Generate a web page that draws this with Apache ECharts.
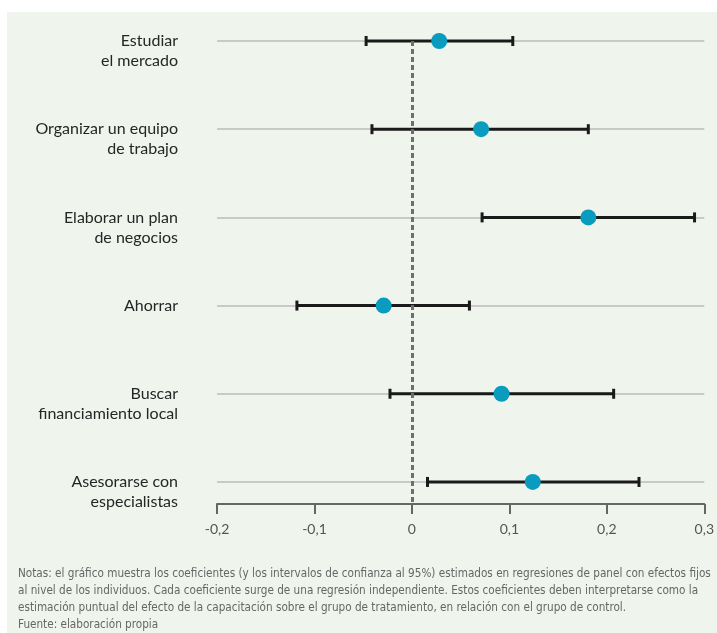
<!DOCTYPE html>
<html><head><meta charset="utf-8">
<script src="https://cdn.jsdelivr.net/npm/echarts@6/dist/echarts.min.js"></script>
<style>html,body{margin:0;padding:0;background:#fff;}#c{width:717px;height:633px;}</style>
</head><body><div id="c"></div>
<script>
const categories = [
  ['Estudiar', 'el mercado'],
  ['Organizar un equipo', 'de trabajo'],
  ['Elaborar un plan', 'de negocios'],
  ['Ahorrar'],
  ['Buscar', 'financiamiento local'],
  ['Asesorarse con', 'especialistas']
];
const coef  = [0.028, 0.071, 0.181, -0.029, 0.092, 0.124];
const lower = [-0.047, -0.041, 0.072, -0.118, -0.0225, 0.016];
const upper = [0.1035, 0.181, 0.290, 0.059, 0.207, 0.233];
const xTicks = [-0.2, -0.1, 0, 0.1, 0.2, 0.3];
const notes = [
  'Notas: el gráfico muestra los coeficientes (y los intervalos de confianza al 95%) estimados en regresiones de panel con efectos fijos',
  'al nivel de los individuos. Cada coeficiente surge de una regresión independiente. Estos coeficientes deben interpretarse como la',
  'estimación puntual del efecto de la capacitación sobre el grupo de tratamiento, en relación con el grupo de control.',
  'Fuente: elaboración propia'
];

const chart = echarts.init(document.getElementById('c'));
const ciData = categories.map((c, i) => [lower[i], upper[i], i]);
const ptData = categories.map((c, i) => [coef[i], i]);

chart.setOption({
  backgroundColor: 'transparent',
  animation: false,
  graphic: [
    { type: 'rect', z: -100, shape: { x: 7, y: 12, width: 710, height: 621 }, style: { fill: '#eff4ec' } },
    { type: 'text', left: 18, top: 565, z: 10, style: {
        text: notes.join('\n'), fill: '#666', lineHeight: 17,
        font: '11.65px "Liberation Sans Narrow", "DejaVu Sans Condensed", sans-serif' } }
  ],
  grid: { left: 217, right: 12, top: 41, bottom: 129 },
  xAxis: {
    type: 'value', min: xTicks[0], max: xTicks[xTicks.length - 1], interval: 0.1,
    axisLine: { show: true, onZero: false, lineStyle: { color: '#666', width: 2 } },
    axisTick: { show: true, length: 10, lineStyle: { color: '#666', width: 2 } },
    splitLine: { show: false },
    axisLabel: { margin: 18, color: '#555', fontSize: 14, fontFamily: 'Lato',
      formatter: v => (Math.round(v * 10) / 10).toString().replace('.', ',') }
  },
  yAxis: {
    type: 'value', inverse: true, min: 0, max: 5.25, interval: 1,
    axisLine: { show: false }, axisTick: { show: false },
    splitLine: { show: true, lineStyle: { color: '#bdbdbd', width: 1.5 } },
    axisLabel: {
      margin: 39, color: '#262626', fontSize: 16, fontFamily: 'Lato', lineHeight: 20, align: 'right',
      showMaxLabel: false,
      formatter: v => {
        if (Math.abs(v - Math.round(v)) > 1e-6) return '';
        const c = categories[Math.round(v)];
        if (!c) return '';
        return c.length > 1 ? ' \n' + c.join('\n') : c[0];
      }
    }
  },
  series: [
    {
      type: 'custom', z: 2, data: ciData,
      renderItem: (params, api) => {
        const a = api.coord([api.value(0), api.value(2)]);
        const b = api.coord([api.value(1), api.value(2)]);
        const st = { stroke: '#1a1a1a', lineWidth: 3 };
        return { type: 'group', children: [
          { type: 'line', shape: { x1: a[0], y1: a[1], x2: b[0], y2: b[1] }, style: st },
          { type: 'line', shape: { x1: a[0], y1: a[1] - 5, x2: a[0], y2: a[1] + 5 }, style: st },
          { type: 'line', shape: { x1: b[0], y1: b[1] - 5, x2: b[0], y2: b[1] + 5 }, style: st }
        ]};
      }
    },
    {
      type: 'line', z: 3, data: [],
      markLine: { silent: true, symbol: ['none', 'none'], label: { show: false },
        lineStyle: { color: '#6e6e6e', width: 3, type: [5, 3] },
        data: [{ xAxis: 0 }] }
    },
    {
      type: 'scatter', z: 4, data: ptData, symbol: 'circle', symbolSize: 16,
      itemStyle: { color: '#0a9cbf', opacity: 1 }
    }
  ]
});
</script></body></html>
